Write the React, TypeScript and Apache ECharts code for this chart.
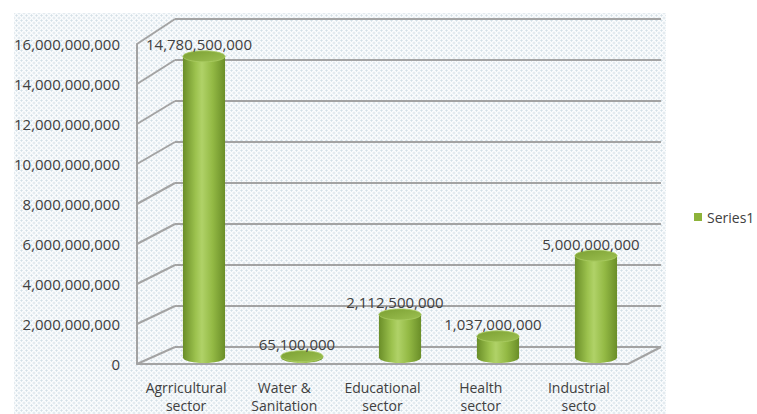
import React, { useEffect, useRef } from "react";
import * as echarts from "echarts";

const categories = [
  "Agrricultural\nsector",
  "Water &\nSanitation",
  "Educational\nsector",
  "Health\nsector",
  "Industrial\nsecto",
];
const values = [14780500000, 65100000, 2112500000, 1037000000, 5000000000];
const yTicks = [0, 2e9, 4e9, 6e9, 8e9, 10e9, 12e9, 14e9, 16e9];
const seriesName = "Series1";

const FONT = "'Open Sans', sans-serif";
const TEXT = "#404040";
const GRIDLINE = "#a3a3a3";

const fmt = (v: number) => v.toLocaleString("en-US");

export default function App() {
  const ref = useRef<HTMLDivElement>(null);

  useEffect(() => {
    if (!ref.current) return;
    const chart = echarts.init(ref.current, undefined, { renderer: "svg" });

    // diagonal lines: left wall ticks + floor right edge
    const diagData: number[][] = yTicks.map((t) => [0, t]);
    diagData.push([1, 0]);

    const option: any = {
      animation: false,
      backgroundColor: "transparent",
      textStyle: { fontFamily: FONT },
      legend: {
        data: [seriesName],
        left: 689,
        top: 205,
        icon: "rect",
        itemWidth: 8,
        itemHeight: 8,
        itemGap: 5,
        textStyle: { color: TEXT, fontSize: 14, fontFamily: FONT },
      },
      grid: [
        { left: 137, right: 129, top: 44, bottom: 46 }, // front plane
        { left: 175, right: 96, top: 19, bottom: 67 }, // back wall
        { left: 155, right: 112, top: 31.5, bottom: 56.5 }, // mid plane (cylinders)
      ],
      xAxis: [
        {
          gridIndex: 0,
          type: "category",
          data: categories,
          axisLine: { show: true, lineStyle: { color: GRIDLINE, width: 2 } },
          axisTick: { show: false },
          axisLabel: {
            color: TEXT,
            fontSize: 14,
            fontFamily: FONT,
            lineHeight: 18,
            margin: 14,
            interval: 0,
          },
        },
        { gridIndex: 0, type: "value", min: 0, max: 1, show: false },
        { gridIndex: 1, type: "value", min: 0, max: 1, show: false },
        { gridIndex: 2, type: "category", data: categories, show: false },
      ],
      yAxis: [
        {
          gridIndex: 0,
          type: "value",
          min: 0,
          max: 16e9,
          interval: 2e9,
          axisLine: { show: true, lineStyle: { color: GRIDLINE, width: 2 } },
          axisTick: { show: false },
          splitLine: { show: false },
          axisLabel: {
            color: TEXT,
            fontSize: 15,
            fontFamily: FONT,
            margin: 17,
            formatter: (v: number) => fmt(v),
          },
        },
        {
          gridIndex: 1,
          type: "value",
          min: 0,
          max: 16e9,
          interval: 2e9,
          axisLine: { show: false },
          axisTick: { show: false },
          axisLabel: { show: false },
          splitLine: { show: true, lineStyle: { color: GRIDLINE, width: 2 } },
        },
        {
          gridIndex: 2,
          type: "value",
          min: 0,
          max: 16e9,
          show: false,
          splitLine: { show: false },
        },
      ],
      series: [
        {
          type: "custom",
          xAxisIndex: 1,
          yAxisIndex: 0,
          silent: true,
          data: diagData,
          renderItem: (params: any, api: any) => {
            const xv = api.value(0);
            const yv = api.value(1);
            const front = api.coord([xv, yv]);
            const back = chart.convertToPixel(
              { xAxisIndex: 2, yAxisIndex: 1 } as any,
              [xv, yv]
            ) as number[];
            return {
              type: "line",
              shape: { x1: front[0], y1: front[1], x2: back[0], y2: back[1] },
              style: { stroke: GRIDLINE, lineWidth: 2 },
            };
          },
          z: 1,
        },
        {
          name: seriesName,
          type: "custom",
          xAxisIndex: 3,
          yAxisIndex: 2,
          itemStyle: { color: "#8db33a" },
          data: values.map((v, i) => [i, v]),
          renderItem: (params: any, api: any) => {
            const i = api.value(0);
            const v = api.value(1);
            const top = api.coord([i, v]);
            const bot = api.coord([i, 0]);
            const band = api.size([1, 0])[0];
            const w = band * 0.43;
            const cx = top[0];
            const ry = 5.5;
            const bodyGrad = new echarts.graphic.LinearGradient(0, 0, 1, 0, [
              { offset: 0, color: "#6a8e28" },
              { offset: 0.3, color: "#9cc24e" },
              { offset: 0.45, color: "#b0d268" },
              { offset: 0.7, color: "#94ba45" },
              { offset: 1, color: "#6a8e28" },
            ]);
            const topGrad = new echarts.graphic.LinearGradient(0, 0, 1, 1, [
              { offset: 0, color: "#7b9f32" },
              { offset: 1, color: "#9dc152" },
            ]);
            return {
              type: "group",
              children: [
                {
                  type: "ellipse",
                  shape: { cx, cy: bot[1], rx: w / 2, ry },
                  style: { fill: bodyGrad },
                },
                {
                  type: "rect",
                  shape: {
                    x: cx - w / 2,
                    y: top[1],
                    width: w,
                    height: Math.max(bot[1] - top[1], 0),
                  },
                  style: { fill: bodyGrad },
                },
                {
                  type: "ellipse",
                  shape: { cx, cy: top[1], rx: w / 2, ry },
                  style: { fill: topGrad, stroke: "#a9cb62", lineWidth: 0.8 },
                },
                {
                  type: "text",
                  style: {
                    text: fmt(v),
                    x: cx - 5,
                    y: top[1] - 12,
                    align: "center",
                    verticalAlign: "middle",
                    fill: TEXT,
                    font: `15px ${FONT}`,
                  },
                },
              ],
            };
          },
          z: 3,
        },
      ],
    };

    chart.setOption(option);
    return () => chart.dispose();
  }, []);

  const dots =
    "radial-gradient(circle, #d2dfe7 0.9px, transparent 1.2px), radial-gradient(circle, #d2dfe7 0.9px, transparent 1.2px)";

  return (
    <div
      style={{
        position: "absolute",
        left: 0,
        top: 0,
        width: 757,
        height: 414,
        background: "#ffffff",
        overflow: "hidden",
      }}
    >
      <div
        style={{
          position: "absolute",
          left: 14,
          top: 13,
          width: 652,
          height: 401,
          backgroundColor: "#fbfcfd",
          backgroundImage: dots,
          backgroundSize: "5px 5px",
          backgroundPosition: "0 0, 2.5px 2.5px",
        }}
      />
      <div
        ref={ref}
        style={{ position: "absolute", left: 0, top: 0, width: 757, height: 414 }}
      />
    </div>
  );
}
